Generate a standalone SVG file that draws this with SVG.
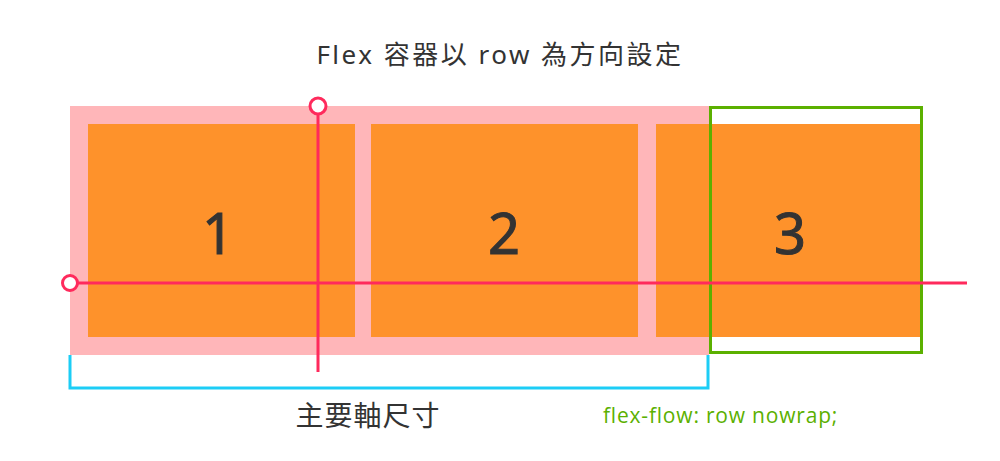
<svg xmlns="http://www.w3.org/2000/svg" width="1000" height="461" viewBox="0 0 1000 461">
<style>
.item{fill:#fe922b}
.num{font-family:"Noto Sans","DejaVu Sans",sans-serif;font-size:56px;fill:#333;stroke:#333;stroke-width:1;text-anchor:middle}
.axis{stroke:#ff2a5c;stroke-width:3;fill:none}
.lbl{font-family:"Noto Sans","Noto Sans CJK TC",sans-serif;fill:#333;text-anchor:middle}
</style>
<rect width="1000" height="461" fill="#fff"/>
<text class="lbl" x="500" y="64" font-size="26" letter-spacing="2.5">Flex 容器以 row 為方向設定</text>
<g id="container"><rect x="70" y="106" width="639" height="249" fill="#ffb6b9"/></g>
<g id="item1"><rect class="item" x="88" y="124" width="267" height="213"/><text class="num" x="218" y="254">1</text></g>
<g id="item2"><rect class="item" x="371" y="124" width="267" height="213"/><text class="num" x="504" y="254">2</text></g>
<g id="item3"><rect class="item" x="656" y="124" width="264" height="213"/><text class="num" x="790" y="254">3</text></g>
<g id="overflow"><rect x="710.5" y="107.5" width="211" height="245" fill="none" stroke="#5bb000" stroke-width="3"/></g>
<g id="connectors">
<line class="axis" x1="318" y1="115" x2="318" y2="372"/>
<circle class="axis" cx="318" cy="106" r="8" style="fill:#fff"/>
<line class="axis" x1="78" y1="283" x2="967" y2="283"/>
<circle class="axis" cx="70" cy="283" r="7.5" style="fill:#fff"/>
<polyline points="70,355 70,388 708,388 708,355" fill="none" stroke="#1ccdf6" stroke-width="3"/>
</g>
<text class="lbl" x="368" y="426" font-size="28" letter-spacing="1">主要軸尺寸</text>
<text x="603" y="423" font-family="'Open Sans','Noto Sans',sans-serif" font-size="21" letter-spacing="0.8" fill="#5bb000">flex-flow: row nowrap;</text>
</svg>
